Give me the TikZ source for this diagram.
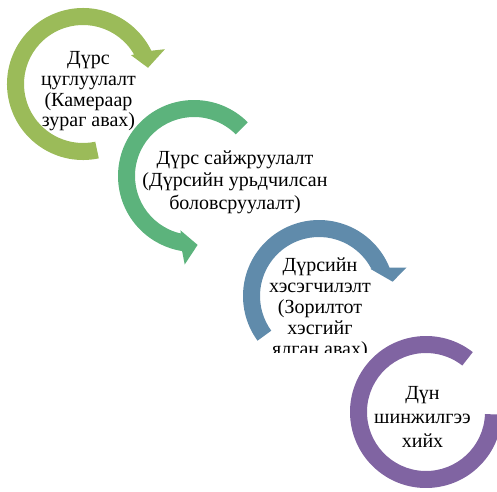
\documentclass[tikz,border=0pt]{standalone}
\usepackage{fontspec}
\setmainfont{Liberation Serif}
\definecolor{ringA}{HTML}{9BBB59}
\definecolor{ringB}{HTML}{5CB37C}
\definecolor{ringC}{HTML}{608BAB}
\definecolor{ringD}{HTML}{8064A2}
\begin{document}
\begin{tikzpicture}[x=1pt,y=1pt,
  band/.style={fill=#1, draw=none},
  txt/.style={align=center, inner sep=0pt, text=black,
    font=\fontsize{20}{#1}\selectfont},
  txt/.default=21]
\useasboundingbox (0,0) rectangle (497,491);
\clip (0,0) rectangle (497,491);

% ring centres
\coordinate (c1) at (83,407);
\coordinate (c2) at (194,315);
\coordinate (c3) at (319,195);
\coordinate (c4) at (426,79);

% step 1: clockwise arrow
\fill[band=ringA, shift={(c1)}]
  (282:76) arc[start angle=282, end angle=26, radius=76]
  -- (23:89) -- (14:67) -- (31:56) -- (30:59)
  arc[start angle=30, end angle=282, radius=59] -- cycle;

% step 2: counter-clockwise arrow
\fill[band=ringB, shift={(c2)}]
  (45:76) arc[start angle=45, end angle=261, radius=76]
  -- (264:89) -- (273:69) -- (256:56) -- (257:59)
  arc[start angle=257, end angle=45, radius=59] -- cycle;

% step 3: clockwise arrow
\fill[band=ringC, shift={(c3)}]
  (216:76) arc[start angle=216, end angle=22, radius=76]
  -- (18:92) -- (11:75) -- (28:58) -- (27:59)
  arc[start angle=27, end angle=216, radius=59] -- cycle;

% step 4: open ring
\fill[band=ringD, shift={(c4)}]
  (52:76) arc[start angle=52, end angle=358, radius=76]
  -- (358:59) arc[start angle=358, end angle=52, radius=59] -- cycle;

% step texts
\node[txt=20.7] (t1) at (88.5,399.5) {Дүрс\\цуглуулалт\\(Камераар\\зураг авах)};
\node[txt=22.5] (t2) at (235,309) {Дүрс сайжруулалт\\(Дүрсийн урьдчилсан\\боловсруулалт)};
\begin{scope}
  \clip (230,138.5) rectangle (410,300);
  \node[txt=21] (t3) at (320,182) {Дүрсийн\\хэсэгчилэлт\\(Зорилтот\\хэсгийг\\ялган авах)};
\end{scope}
\node[txt=24] (t4) at (422.5,74.5) {Дүн\\шинжилгээ\\хийх};
\end{tikzpicture}
\end{document}
